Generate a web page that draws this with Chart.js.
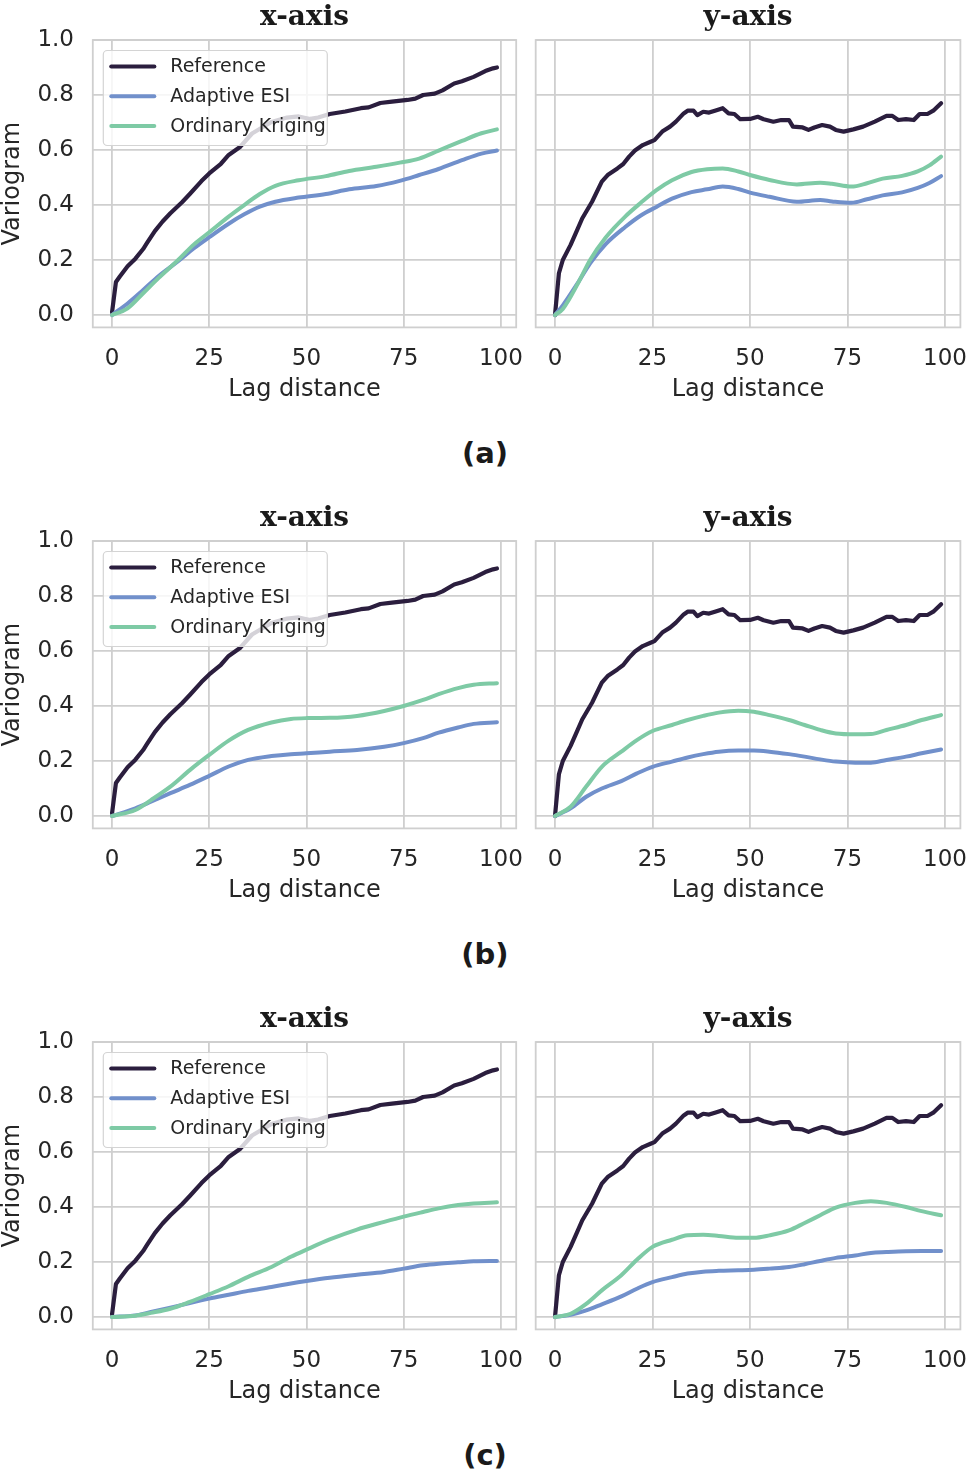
<!DOCTYPE html>
<html><head><meta charset="utf-8">
<script src="https://cdn.jsdelivr.net/npm/chart.js@4/dist/chart.umd.min.js"></script>
<style>
html,body{margin:0;padding:0;background:#fff;}
#wrap{position:relative;width:968px;height:1475px;overflow:hidden;background:#fff;}
canvas{position:absolute;}
.tag{position:absolute;font:bold 29px "DejaVu Sans";line-height:29px;color:#1a1a1a;transform:translateX(-50%);white-space:nowrap;}
</style></head><body>
<div id="wrap"></div>
<script>
// ---------- data ----------
const seriesNames = ['Reference', 'Adaptive ESI', 'Ordinary Kriging'];
const panelTitles = ['x-axis', 'y-axis'];
const panelTags = ['(a)', '(b)', '(c)'];
const xTickValues = [0, 25, 50, 75, 100];
const yTickValues = [0, 0.2, 0.4, 0.6, 0.8, 1.0];

// Reference variograms (same in all rows)
const refXLag = [0,1,2,4,6,8,9,11,13,15,18,20,23,25,28,30,33,36,41,45,48,51,53,56,60,64,66,69,72,76,78,80,83,85,88,90,93,96,98,99];
const refXVal = [0.01,0.12,0.14,0.177,0.205,0.24,0.262,0.305,0.34,0.37,0.41,0.44,0.487,0.515,0.55,0.582,0.612,0.66,0.702,0.718,0.722,0.713,0.718,0.731,0.74,0.752,0.755,0.771,0.776,0.782,0.787,0.8,0.805,0.817,0.842,0.85,0.866,0.887,0.897,0.9];
const refYLag = [0,1,2,4,5.5,7,9.5,12,13.5,16,17.5,19,20.5,22.5,24.5,25.5,27.5,29.5,31,33,34,35.5,36.5,38,39.5,41,43,44.5,46,47.5,50,52,53.5,56,58,60,61,63.5,65,66.5,68.5,70.5,72,74,76.5,79,82,85,86.5,88,90,92,93.5,95.5,97,99];
const refYVal = [0,0.152,0.2,0.255,0.303,0.352,0.412,0.485,0.509,0.533,0.549,0.576,0.598,0.618,0.63,0.636,0.667,0.685,0.703,0.733,0.743,0.743,0.727,0.739,0.736,0.743,0.752,0.733,0.731,0.712,0.713,0.721,0.712,0.703,0.709,0.709,0.685,0.682,0.673,0.682,0.691,0.685,0.673,0.667,0.675,0.685,0.703,0.724,0.724,0.709,0.712,0.709,0.731,0.731,0.743,0.77];

// Row (a)
const lagTopX = [0,4,8,12,17,21,25,30,34,38,42,48,55,61,68,74,79,84,90,95,99];
const esiTopX = [0,0.042,0.091,0.142,0.196,0.242,0.283,0.332,0.366,0.394,0.412,0.427,0.44,0.457,0.469,0.488,0.509,0.531,0.563,0.587,0.598];
const okTopX  = [0,0.024,0.079,0.135,0.2,0.256,0.301,0.358,0.4,0.44,0.47,0.49,0.505,0.524,0.539,0.554,0.569,0.598,0.633,0.661,0.675];
const lagTopY = [0,2,6,9,13,18,22,26,30,35,39,43,47,50,55,62,68,71,76,80,84,89,93,96,99];
const esiTopY = [0,0.035,0.12,0.188,0.258,0.32,0.362,0.393,0.423,0.447,0.457,0.467,0.458,0.445,0.43,0.412,0.418,0.413,0.408,0.421,0.435,0.446,0.462,0.48,0.505];
const okTopY  = [0,0.022,0.118,0.2,0.282,0.358,0.408,0.454,0.49,0.52,0.53,0.533,0.522,0.509,0.491,0.475,0.481,0.477,0.467,0.479,0.496,0.506,0.522,0.544,0.576];

// Rows (b) and (c)
const lagLowX = [0,6,10,15,20,25,30,35,41,46,50,56,63,70,75,80,84,89,93,99];
const esiMidX = [0,0.028,0.052,0.083,0.113,0.146,0.18,0.204,0.218,0.225,0.228,0.234,0.24,0.252,0.265,0.283,0.303,0.322,0.335,0.341];
const okMidX  = [0,0.022,0.058,0.107,0.167,0.222,0.274,0.313,0.34,0.353,0.356,0.357,0.364,0.382,0.4,0.422,0.443,0.465,0.477,0.483];
const esiLowX = [0,0.006,0.018,0.034,0.051,0.067,0.081,0.095,0.109,0.122,0.131,0.143,0.154,0.164,0.176,0.188,0.194,0.199,0.203,0.204];
const okLowX  = [0,0.005,0.015,0.03,0.055,0.083,0.112,0.146,0.182,0.219,0.245,0.282,0.318,0.346,0.365,0.382,0.395,0.407,0.413,0.417];
const lagLowY = [0,4,8,12,17,21,25,30,34,38,42,47,51,55,60,64,68,72,77,81,85,90,94,99];
const esiMidY = [0,0.028,0.07,0.1,0.127,0.155,0.179,0.198,0.213,0.225,0.234,0.238,0.238,0.234,0.225,0.216,0.206,0.198,0.194,0.194,0.204,0.216,0.228,0.242];
const okMidY  = [0,0.034,0.107,0.179,0.234,0.276,0.309,0.331,0.349,0.364,0.376,0.383,0.379,0.367,0.349,0.331,0.313,0.3,0.297,0.298,0.313,0.331,0.349,0.367];
const esiLowY = [0,0.008,0.024,0.046,0.075,0.103,0.127,0.145,0.158,0.165,0.168,0.17,0.172,0.176,0.182,0.192,0.204,0.215,0.224,0.233,0.236,0.239,0.24,0.24];
const okLowY  = [0,0.012,0.048,0.097,0.152,0.208,0.255,0.281,0.297,0.299,0.295,0.288,0.288,0.297,0.315,0.342,0.37,0.398,0.415,0.421,0.415,0.4,0.385,0.37];

// ---------- styling ----------
const colors = ['#2b1e3e', '#7190cb', '#7ecaa5'];
const gridColor = '#cfcfcf';
const textColor = '#262626';
const rowTops = [0, 501, 1002];

const panels = [
  {row:0, side:0, refLag:refXLag, refVal:refXVal, lag:lagTopX, esi:esiTopX, ok:okTopX},
  {row:0, side:1, refLag:refYLag, refVal:refYVal, lag:lagTopY, esi:esiTopY, ok:okTopY},
  {row:1, side:0, refLag:refXLag, refVal:refXVal, lag:lagLowX, esi:esiMidX, ok:okMidX},
  {row:1, side:1, refLag:refYLag, refVal:refYVal, lag:lagLowY, esi:esiMidY, ok:okMidY},
  {row:2, side:0, refLag:refXLag, refVal:refXVal, lag:lagLowX, esi:esiLowX, ok:okLowX},
  {row:2, side:1, refLag:refYLag, refVal:refYVal, lag:lagLowY, esi:esiLowY, ok:okLowY},
];

const pts = (xs, ys) => xs.map((x, i) => ({x: x, y: ys[i]}));

const framePlugin = {
  id: 'frame',
  beforeDatasetsDraw(chart) {
    const {ctx, chartArea: a} = chart;
    ctx.save();
    ctx.strokeStyle = gridColor;
    ctx.lineWidth = 1.8;
    ctx.strokeRect(a.left, a.top, a.right - a.left, a.bottom - a.top);
    ctx.restore();
  }
};

const titlePlugin = {
  id: 'panelTitle',
  afterDraw(chart, args, opts) {
    const {ctx, chartArea: a} = chart;
    ctx.save();
    ctx.font = 'bold 28px "DejaVu Serif"';
    ctx.fillStyle = '#1a1a1a';
    ctx.textAlign = 'center';
    ctx.textBaseline = 'alphabetic';
    ctx.fillText(opts.text, (a.left + a.right) / 2, 25);
    ctx.restore();
  }
};

const legendPlugin = {
  id: 'insideLegend',
  afterDatasetsDraw(chart, args, opts) {
    if (!opts.show) return;
    const {ctx, chartArea: a} = chart;
    const x = a.left + 10.5, y = a.top + 10.5, w = 224, h = 95, r = 4;
    ctx.save();
    ctx.beginPath();
    ctx.moveTo(x + r, y);
    ctx.arcTo(x + w, y, x + w, y + h, r);
    ctx.arcTo(x + w, y + h, x, y + h, r);
    ctx.arcTo(x, y + h, x, y, r);
    ctx.arcTo(x, y, x + w, y, r);
    ctx.closePath();
    ctx.fillStyle = 'rgba(255,255,255,0.8)';
    ctx.fill();
    ctx.strokeStyle = '#d4d4d4';
    ctx.lineWidth = 1.2;
    ctx.stroke();
    const labelled = chart.data.datasets.slice().sort((p, q) => p.legendIndex - q.legendIndex);
    labelled.forEach((ds, i) => {
      const cy = y + 16 + i * 29.8;
      ctx.beginPath();
      ctx.strokeStyle = ds.borderColor;
      ctx.lineWidth = ds.borderWidth;
      ctx.lineCap = 'round';
      ctx.moveTo(x + 8, cy);
      ctx.lineTo(x + 51, cy);
      ctx.stroke();
      ctx.font = '19px "DejaVu Sans"';
      ctx.fillStyle = textColor;
      ctx.textAlign = 'left';
      ctx.textBaseline = 'middle';
      ctx.fillText(ds.label, x + 67, cy + 0.5);
    });
    ctx.restore();
  }
};

const wrap = document.getElementById('wrap');

panels.forEach(p => {
  const left = p.side === 0;
  const cv = document.createElement('canvas');
  const cw = left ? 532 : 448;
  const ch = 420;
  cv.width = cw; cv.height = ch;
  cv.style.left = (left ? 0 : 520) + 'px';
  cv.style.top = rowTops[p.row] + 'px';
  cv.style.width = cw + 'px'; cv.style.height = ch + 'px';
  wrap.appendChild(cv);

  const yAxisWidth = left ? 92.8 : 15.7;
  const padRight = left ? 15.8 : 7.6;

  new Chart(cv, {
    type: 'line',
    data: {
      datasets: [
        {label: seriesNames[0], legendIndex: 0, data: pts(p.refLag, p.refVal), borderColor: colors[0], borderWidth: 4.2, tension: 0, order: 3},
        {label: seriesNames[1], legendIndex: 1, data: pts(p.lag, p.esi), borderColor: colors[1], borderWidth: 4, cubicInterpolationMode: 'monotone', order: 2},
        {label: seriesNames[2], legendIndex: 2, data: pts(p.lag, p.ok), borderColor: colors[2], borderWidth: 4, cubicInterpolationMode: 'monotone', order: 1},
      ]
    },
    options: {
      responsive: false,
      animation: false,
      devicePixelRatio: 1,
      layout: {padding: {left: 0, right: padRight, top: 40, bottom: 18}},
      elements: {point: {radius: 0, hoverRadius: 0}, line: {borderCapStyle: 'round', borderJoinStyle: 'round'}},
      plugins: {
        legend: {display: false},
        tooltip: {enabled: false},
        panelTitle: {text: panelTitles[p.side]},
        insideLegend: {show: left},
      },
      scales: {
        x: {
          type: 'linear', min: -4.95, max: 103.95,
          afterBuildTicks: s => { s.ticks = xTickValues.map(v => ({value: v})); },
          afterFit: s => { s.height = 74.6; s.paddingLeft = 0; s.paddingRight = 0; s.paddingTop = 0; s.paddingBottom = 0; },
          grid: {color: gridColor, lineWidth: 1.8, drawTicks: false},
          border: {display: false},
          ticks: {color: textColor, font: {family: 'DejaVu Sans', size: 23}, padding: 17.5, maxRotation: 0, autoSkip: false,
                  callback: v => String(v)},
          title: {display: true, text: 'Lag distance', color: textColor, font: {family: 'DejaVu Sans', size: 24, lineHeight: 1}, padding: {top: 0, bottom: 0}}
        },
        y: {
          type: 'linear', min: -0.045, max: 1.0,
          afterBuildTicks: s => { s.ticks = yTickValues.map(v => ({value: v})); },
          afterFit: s => { s.width = yAxisWidth; s.paddingLeft = 0; s.paddingRight = 0; s.paddingTop = 0; s.paddingBottom = 0; },
          grid: {color: gridColor, lineWidth: 1.8, drawTicks: false},
          border: {display: false},
          ticks: {display: left, color: textColor, font: {family: 'DejaVu Sans', size: 23}, padding: 18.8,
                  callback: v => Number(v).toFixed(1)},
          title: {display: left, text: 'Variogram', color: textColor, font: {family: 'DejaVu Sans', size: 24, lineHeight: 1}, padding: {top: 0.5, bottom: 0}}
        }
      }
    },
    plugins: [framePlugin, titlePlugin, legendPlugin]
  });
});

panelTags.forEach((t, i) => {
  const d = document.createElement('div');
  d.className = 'tag';
  d.textContent = t;
  d.style.left = '485px';
  d.style.top = (rowTops[i] + 438.5) + 'px';
  wrap.appendChild(d);
});
</script>
</body></html>
